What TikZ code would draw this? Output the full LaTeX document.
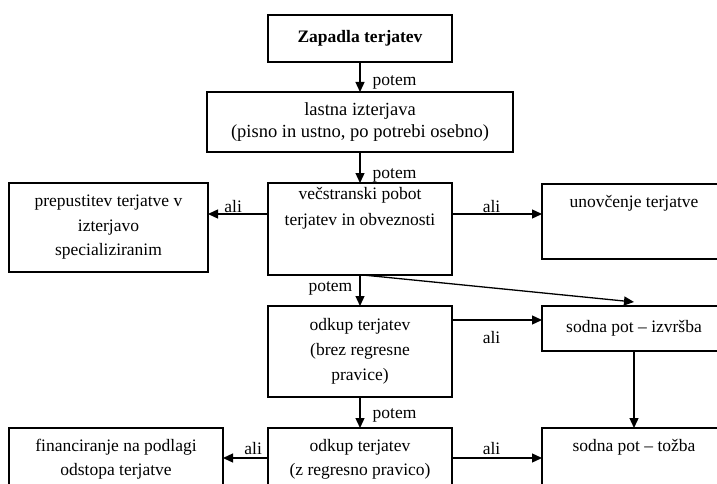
\documentclass[tikz,border=0pt]{standalone}
\usepackage{fontspec}
\setmainfont{Liberation Serif}
\usetikzlibrary{arrows.meta,positioning}

\begin{document}
\begin{tikzpicture}[x=1pt,y=-1pt,
            box/.style={draw, rectangle, line width=1.3pt, align=center,
                        inner sep=3pt, outer sep=0pt, minimum width=184pt,
                        font=\fontsize{17.5}{25}\selectfont},
            top box/.style={box, text height=20pt, text depth=60pt},
            link/.style={line width=1.3pt, -{Triangle[length=10pt,width=9pt]}},
            lbl/.style={font=\fontsize{17.5}{21}\selectfont, inner sep=2pt}]

    \useasboundingbox (0,0) rectangle (717,484);
    \clip (0,0) rectangle (717,484);

    % middle column
    \node[box, minimum height=47pt] (zap) at (360,38.5) {\textbf{Zapadla terjatev}};
    \node[box, minimum width=306pt, minimum height=60pt,
          font=\fontsize{18.5}{21.5}\selectfont] (last) at (360,122)
          {lastna izterjava\\(pisno in ustno, po potrebi osebno)};
    \node[box, anchor=north, text height=39pt, text depth=47pt,
          font=\fontsize{17.5}{26}\selectfont] (vec) at (360,183)
          {večstranski pobot\\terjatev in obveznosti};
    \node[box, minimum height=91pt] (odk1) at (360,351.5)
          {odkup terjatev\\(brez regresne\\pravice)};
    \node[top box, anchor=north, text height=44pt, text depth=36pt,
          font=\fontsize{17.5}{24}\selectfont] (odk2) at (360,428)
          {odkup terjatev\\(z regresno pravico)};

    % left column
    \node[box, minimum width=199pt, minimum height=89pt,
          font=\fontsize{17.5}{24.5}\selectfont] (prep) at (108.5,227.5)
          {prepustitev terjatve v\\izterjavo\\specializiranim};
    \node[top box, anchor=north west, minimum width=214pt, text height=44pt,
          text depth=36pt, font=\fontsize{17.5}{24}\selectfont] (fin) at (9,428)
          {financiranje na podlagi\\odstopa terjatve};

    % right column
    \node[box, anchor=north west, text height=20pt, text depth=49pt] (unov) at (542,184)
          {unovčenje terjatve};
    \node[box, anchor=north west, minimum height=45pt] (izv) at (542,306)
          {sodna pot -- izvršba};
    \node[top box, anchor=north west] (tozba) at (542,428) {sodna pot -- tožba};

    % connectors
    \draw[link] (zap) -- node[lbl, right=10pt, pos=0.67] {potem} (last);
    \draw[link] (last) -- node[lbl, right=10pt, pos=0.77] {potem} (vec);
    \draw[link] ([yshift=15pt]vec.west) coordinate (vw)
        -- node[lbl, above=0pt, inner sep=0.5pt, pos=0.58] {ali} (vw -| prep.east);
    \draw[link] ([yshift=15pt]vec.east) coordinate (ve)
        -- node[lbl, above=0pt, inner sep=0.5pt, pos=0.44] {ali} (ve -| unov.west);
    \draw[link] (vec) -- node[lbl, left=5pt, pos=0.42] {potem} (odk1);
    \draw[link] ([xshift=3pt]vec.south) -- ([yshift=4pt]izv.north);
    \coordinate (iw) at ([yshift=8.5pt]izv.west);
    \draw[link] (iw -| odk1.east) -- node[lbl, below=9pt, pos=0.44] {ali} (iw);
    \draw[link] (odk1) -- node[lbl, right=10pt, pos=0.61] {potem} (odk2);
    \draw[link] (izv) -- (tozba);
    \draw[link] ([yshift=13pt]odk2.west) coordinate (ow)
        -- node[lbl, above=0pt, inner sep=3pt, pos=0.33] {ali} (ow -| fin.east);
    \draw[link] ([yshift=13pt]odk2.east) coordinate (oe)
        -- node[lbl, above=0pt, inner sep=3pt, pos=0.44] {ali} (oe -| tozba.west);

\end{tikzpicture}
\end{document}
